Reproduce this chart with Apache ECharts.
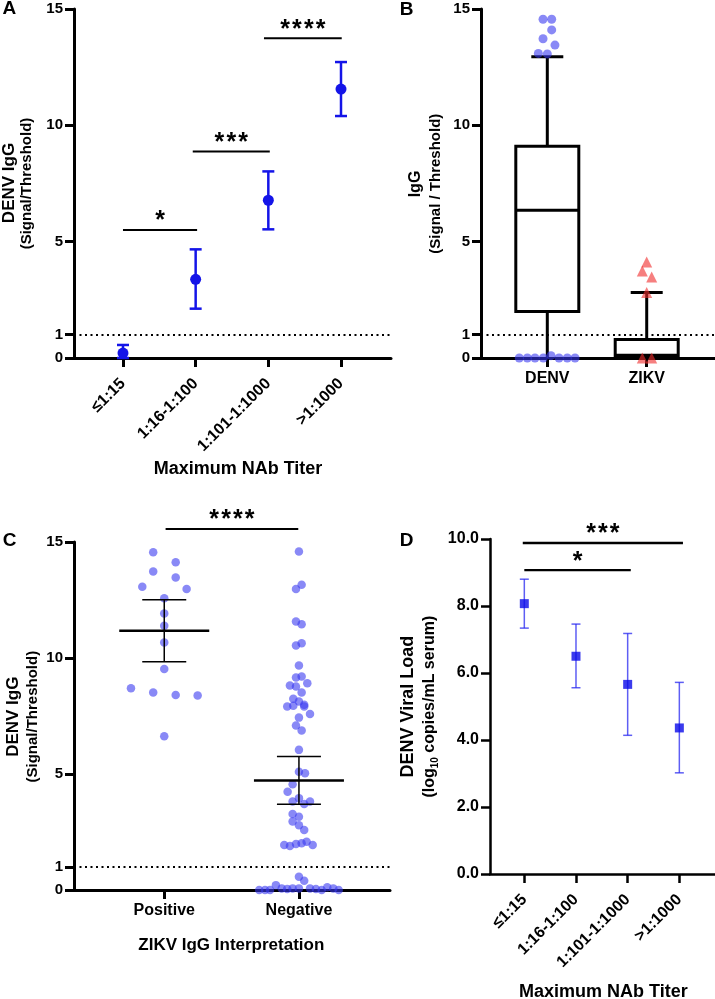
<!DOCTYPE html>
<html><head><meta charset="utf-8">
<script src="https://cdn.jsdelivr.net/npm/echarts@6/dist/echarts.min.js"></script>
<style>html,body{margin:0;padding:0;background:#fff}#c{width:715px;height:999px}</style>
</head><body><div id="c"></div>
<script>
const FONT = '"Liberation Sans", Arial, Helvetica, sans-serif';

// ---------- Panel A ----------
const titerCats = ['≤1:15', '1:16-1:100', '1:101-1:1000', '>1:1000'];
const aMean  = [0.21, 3.38, 6.78, 11.56];
const aUpper = [0.56, 4.67, 8.02, 12.72];
const aLower = [0.00, 2.12, 5.53, 10.40];
const aSig = [[0, 1.02, 5.5], [0.96, 2.02, 8.87], [1.94, 3.01, 13.74]];
const aSigLabels = ['*', '***', '****'];
const igTicks = [0, 1, 5, 10, 15];

// ---------- Panel B ----------
const bCats = ['DENV', 'ZIKV'];
// [category, min, Q1, median, Q3, max]
const bBox = [[0, 0, 2.0, 6.35, 9.1, 12.95], [1, 0, 0.05, 0.12, 0.79, 2.81]];
// [jitter, value]
const bDenvOut = [[-0.043, 14.56], [0.044, 14.56], [0.044, 14.1], [-0.043, 13.72], [0.077, 13.45], [-0.09, 13.09], [0, 13.07],
  [-0.282, 0], [-0.201, 0], [-0.124, 0], [-0.040, 0], [0.037, 0.1], [0.118, 0], [0.201, 0], [0.279, 0]];
const bZikvOut = [[0, 4.13], [-0.044, 3.74], [0.05, 3.48], [0, 2.81], [-0.044, 0], [0.05, 0]];

// ---------- Panel C ----------
const cCats = ['Positive', 'Negative'];
const cPos = [[-0.082, 14.56], [0.085, 14.13], [-0.082, 13.73], [0.085, 13.47], [-0.163, 13.07], [0.166, 12.97], [0, 12.58], [0, 11.92],
  [0, 11.39], [0, 10.67], [0, 9.53], [-0.247, 8.70], [-0.082, 8.51], [0.085, 8.41], [0.248, 8.38], [0, 6.63]];
const cNeg = [[0, 14.59], [0.020, 13.16], [-0.022, 12.97], [-0.022, 11.57], [0.020, 11.45], [-0.022, 10.54], [0.020, 10.64], [0, 9.68],
  [-0.022, 9.16], [0.020, 9.20], [-0.067, 8.81], [-0.022, 8.77], [0.062, 8.91], [0.020, 8.51], [-0.042, 8.24], [0, 8.12],
  [-0.087, 7.91], [-0.042, 7.94], [0.039, 7.98], [0.039, 7.91], [0.082, 7.59], [0, 7.43], [-0.022, 7.09], [0.020, 6.87],
  [0, 6.04], [0, 5.10], [0.045, 5.03], [-0.047, 4.56], [-0.084, 4.24], [0, 3.96], [-0.047, 3.81], [0.039, 3.71], [0.082, 3.81],
  [-0.047, 3.28], [0, 3.16], [-0.047, 2.95], [0, 2.79], [0.039, 2.59],
  [-0.109, 1.94], [-0.067, 1.90], [-0.022, 1.98], [0.020, 2.01], [0.057, 2.08], [0.102, 1.94],
  [0, 0.57], [0.039, 0.40],
  [-0.295, 0], [-0.252, 0], [-0.215, 0], [-0.171, 0.21], [-0.128, 0.07], [-0.087, 0.04], [-0.047, 0.07], [0, 0.07],
  [0.082, 0.07], [0.126, 0.04], [0.169, 0], [0.21, 0.12], [0.255, 0.07], [0.295, 0]];
const cMean  = [11.17, 4.72];
const cUpper = [12.51, 5.75];
const cLower = [9.84, 3.70];
const cSig = [[0.01, 0.995, 15.56]];
const cSigLabels = ['****'];

// ---------- Panel D ----------
const dMean  = [8.07, 6.50, 5.66, 4.36];
const dUpper = [8.80, 7.46, 7.18, 5.72];
const dLower = [7.34, 5.56, 4.14, 3.02];
const dSig = [[0, 2.06, 9.07], [-0.03, 3.07, 9.88]];
const dSigLabels = ['*', '***'];
const dTicks = [0, 2, 4, 6, 8, 10];

const dotBlue = 'rgba(55,55,240,0.74)';
const dotRed = 'rgba(240,45,45,0.76)';

function yAx(grid, max, ticks, fmt, lw, fs) {
  return {
    type: 'value', gridIndex: grid, min: 0, max: max,
    axisLine: { show: true, onZero: false, lineStyle: { color: '#000', width: lw } },
    axisTick: { show: true, length: 9, customValues: ticks, lineStyle: { color: '#000', width: lw } },
    axisLabel: { color: '#000', fontSize: fs, fontWeight: 'bold', fontFamily: FONT, margin: 11, customValues: ticks, formatter: fmt },
    splitLine: { show: false }
  };
}
function xAx(grid, min, max, cats, rotate, lw, fs, margin) {
  const idx = cats.map((_, i) => i);
  return {
    type: 'value', gridIndex: grid, min: min, max: max,
    axisLine: { show: true, onZero: false, lineStyle: { color: '#000', width: lw } },
    axisTick: { show: true, length: 9, customValues: idx, lineStyle: { color: '#000', width: lw } },
    axisLabel: {
      color: '#000', fontSize: fs, fontWeight: 'bold', fontFamily: FONT, rotate: rotate, margin: margin, customValues: idx,
      formatter: v => cats[Math.round(v)]
    },
    splitLine: { show: false }
  };
}
const dotted = {
  silent: true, symbol: ['none', 'none'], label: { show: false },
  lineStyle: { color: '#000', type: [2, 3.5], width: 2 }, data: [{ yAxis: 1 }]
};
function sigSeries(grid, data, labels, lw, dy) {
  return {
    type: 'custom', xAxisIndex: grid, yAxisIndex: grid, clip: false, z: 6, data: data,
    renderItem: (p, api) => {
      const a = api.coord([api.value(0), api.value(2)]);
      const b = api.coord([api.value(1), api.value(2)]);
      const n = labels[p.dataIndex].length, pitch = 11.8, cx = (a[0] + b[0]) / 2;
      const kids = [{ type: 'line', shape: { x1: a[0], y1: a[1], x2: b[0], y2: b[1] }, style: { stroke: '#000', lineWidth: lw } }];
      for (let k = 0; k < n; k++) {
        kids.push({ type: 'text', x: cx + (k - (n - 1) / 2) * pitch, y: a[1] - dy, style: {
          text: '*', fill: '#000', fontSize: 25, fontWeight: 'bold', fontFamily: FONT, align: 'center', verticalAlign: 'middle' } });
      }
      return { type: 'group', children: kids };
    }
  };
}
function errSeries(grid, lo, hi, capW, lw, color) {
  return {
    type: 'custom', xAxisIndex: grid, yAxisIndex: grid, z: 3,
    data: lo.map((v, i) => [i, v, hi[i]]),
    renderItem: (p, api) => {
      const x = api.value(0);
      const h = api.coord([x, api.value(2)]), l = api.coord([x, api.value(1)]);
      const st = { stroke: color, lineWidth: lw };
      return { type: 'group', children: [
        { type: 'line', shape: { x1: h[0], y1: h[1], x2: l[0], y2: l[1] }, style: st },
        { type: 'line', shape: { x1: h[0] - capW / 2, y1: h[1], x2: h[0] + capW / 2, y2: h[1] }, style: st },
        { type: 'line', shape: { x1: l[0] - capW / 2, y1: l[1], x2: l[0] + capW / 2, y2: l[1] }, style: st }
      ] };
    }
  };
}
function txt(x, y, text, fs, rot, extra) {
  return { type: 'text', x: x, y: y, rotation: rot || 0, style: Object.assign({ text: text, fill: '#000', fontSize: fs, fontWeight: 'bold',
    fontFamily: FONT, align: 'center', verticalAlign: 'middle' }, extra || {}) };
}
const R = Math.PI / 2;

const option = {
  animation: false,
  grid: [
    { left: 74, top: 9, width: 317, height: 349, outerBoundsMode: 'none' },
    { left: 481, top: 9, width: 234, height: 349, outerBoundsMode: 'none' },
    { left: 74, top: 542, width: 316, height: 348, outerBoundsMode: 'none' },
    { left: 490, top: 539, width: 225, height: 335, outerBoundsMode: 'none' }
  ],
  xAxis: [
    xAx(0, -0.674, 3.688, titerCats, 45, 3, 16, 23),
    xAx(1, -0.667, 1.687, bCats, 0, 3, 16, 13),
    xAx(2, -0.670, 1.676, cCats, 0, 3, 16, 13),
    xAx(3, -0.664, 3.690, titerCats, 45, 2.5, 16, 23)
  ],
  yAxis: [
    yAx(0, 15, igTicks, v => String(v), 3, 15),
    yAx(1, 15, igTicks, v => String(v), 3, 15),
    yAx(2, 15, igTicks, v => String(v), 3, 15),
    yAx(3, 10, dTicks, v => v.toFixed(1), 2.5, 16)
  ],
  series: [
    // A
    errSeries(0, aLower, aUpper, 12, 2.5, '#1414e8'),
    { type: 'scatter', xAxisIndex: 0, yAxisIndex: 0, symbol: 'circle', symbolSize: 11, z: 4,
      itemStyle: { color: '#1414e8', opacity: 1 }, data: aMean.map((v, i) => [i, v]), markLine: dotted },
    sigSeries(0, aSig, aSigLabels, 2, 8.5),
    // B
    { type: 'custom', xAxisIndex: 1, yAxisIndex: 1, z: 3, data: bBox,
      renderItem: (p, api) => {
        const x = api.value(0);
        const c = k => api.coord([x, api.value(k)]);
        const mn = c(1), q1 = c(2), md = c(3), q3 = c(4), mx = c(5);
        const bw = 63, cw = 32, st = { stroke: '#000', lineWidth: 3 };
        return { type: 'group', children: [
          { type: 'line', shape: { x1: mx[0], y1: mx[1], x2: q3[0], y2: q3[1] }, style: st },
          { type: 'line', shape: { x1: q1[0], y1: q1[1], x2: mn[0], y2: mn[1] }, style: st },
          { type: 'line', shape: { x1: mx[0] - cw / 2, y1: mx[1], x2: mx[0] + cw / 2, y2: mx[1] }, style: st },
          { type: 'rect', shape: { x: q3[0] - bw / 2, y: q3[1], width: bw, height: q1[1] - q3[1] }, style: { stroke: '#000', lineWidth: 3, fill: '#fff' } },
          { type: 'line', shape: { x1: md[0] - bw / 2, y1: md[1], x2: md[0] + bw / 2, y2: md[1] }, style: st }
        ] };
      }
    },
    { type: 'scatter', xAxisIndex: 1, yAxisIndex: 1, symbol: 'circle', symbolSize: 9, z: 4,
      itemStyle: { color: dotBlue }, data: bDenvOut.map(d => [0 + d[0], d[1]]), markLine: dotted },
    { type: 'scatter', xAxisIndex: 1, yAxisIndex: 1, symbol: 'triangle', symbolSize: 11, z: 4,
      itemStyle: { color: dotRed }, data: bZikvOut.map(d => [1 + d[0], d[1]]) },
    // C
    { type: 'scatter', xAxisIndex: 2, yAxisIndex: 2, symbol: 'circle', symbolSize: 8.5, z: 3,
      itemStyle: { color: dotBlue }, data: cPos.map(d => [0 + d[0], d[1]]), markLine: dotted },
    { type: 'scatter', xAxisIndex: 2, yAxisIndex: 2, symbol: 'circle', symbolSize: 8.5, z: 3,
      itemStyle: { color: dotBlue }, data: cNeg.map(d => [1 + d[0], d[1]]) },
    { type: 'custom', xAxisIndex: 2, yAxisIndex: 2, z: 5, data: cMean.map((v, i) => [i, v, cLower[i], cUpper[i]]),
      renderItem: (p, api) => {
        const x = api.value(0);
        const m = api.coord([x, api.value(1)]), l = api.coord([x, api.value(2)]), h = api.coord([x, api.value(3)]);
        const mw = 90, cw = 44, thin = { stroke: '#000', lineWidth: 1.5 };
        return { type: 'group', children: [
          { type: 'line', shape: { x1: h[0], y1: h[1], x2: l[0], y2: l[1] }, style: thin },
          { type: 'line', shape: { x1: h[0] - cw / 2, y1: h[1], x2: h[0] + cw / 2, y2: h[1] }, style: thin },
          { type: 'line', shape: { x1: l[0] - cw / 2, y1: l[1], x2: l[0] + cw / 2, y2: l[1] }, style: thin },
          { type: 'line', shape: { x1: m[0] - mw / 2, y1: m[1], x2: m[0] + mw / 2, y2: m[1] }, style: { stroke: '#000', lineWidth: 2.5 } }
        ] };
      }
    },
    sigSeries(2, cSig, cSigLabels, 2, 8.5),
    // D
    errSeries(3, dLower, dUpper, 9, 1.5, 'rgba(40,40,240,0.75)'),
    { type: 'scatter', xAxisIndex: 3, yAxisIndex: 3, symbol: 'rect', symbolSize: 9, z: 4,
      itemStyle: { color: '#0a0ae8' }, data: dMean.map((v, i) => [i, v]) },
    sigSeries(3, dSig, dSigLabels, 2.3, 8.5)
  ],
  graphic: [
    txt(9.3, 9, 'A', 19), txt(406.7, 9.5, 'B', 19), txt(9.7, 540.5, 'C', 19), txt(406.7, 540.5, 'D', 19),
    txt(9, 183, 'DENV IgG', 17, R), txt(27, 183.5, '(Signal/Threshold)', 15, R),
    txt(415.5, 184, 'IgG', 16, R), txt(435.5, 183.7, '(Signal / Threshold)', 15, R),
    txt(13, 716.7, 'DENV IgG', 17, R), txt(33, 716.7, '(Signal/Threshold)', 15, R),
    txt(408, 706.7, 'DENV Viral Load', 18, R),
    txt(430, 706.7, '{a|(log}{s|10}{a| copies/mL serum)}', 16, R, {
      rich: { a: { fontSize: 16, fontWeight: 'bold', fontFamily: FONT, fill: '#000', lineHeight: 20 },
              s: { fontSize: 10, fontWeight: 'bold', fontFamily: FONT, fill: '#000', lineHeight: 10, verticalAlign: 'bottom' } } }),
    txt(238, 469.5, 'Maximum NAb Titer', 18),
    txt(231.3, 945, 'ZIKV IgG Interpretation', 17),
    txt(603.3, 991.7, 'Maximum NAb Titer', 18)
  ]
};
echarts.init(document.getElementById('c'), null, { renderer: 'canvas' }).setOption(option);
</script>
</body></html>
